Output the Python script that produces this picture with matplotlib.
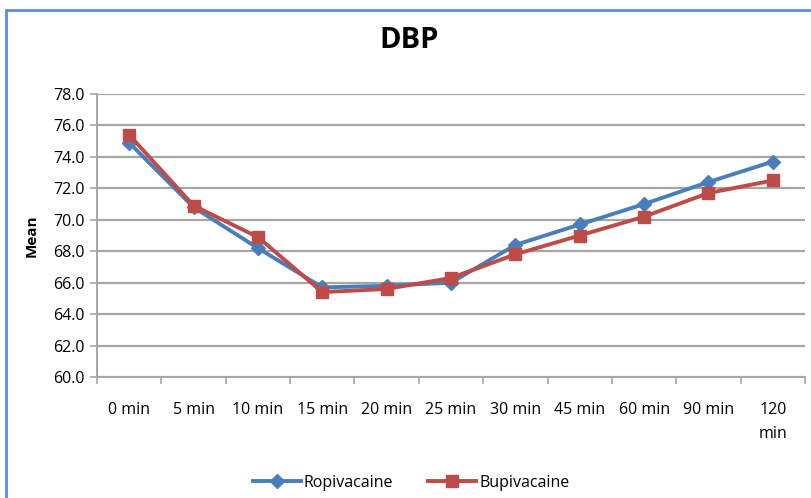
import matplotlib
matplotlib.use("Agg")
import matplotlib.pyplot as plt
import numpy as np
from matplotlib.patches import Rectangle

BLUE = "#4A7EBB"
RED = "#BE4B48"
GRID = "#A6A6A6"

times = ["0 min", "5 min", "10 min", "15 min", "20 min", "25 min",
         "30 min", "45 min", "60 min", "90 min", "120\nmin"]
ropivacaine = [74.9, 70.8, 68.2, 65.7, 65.8, 66.0, 68.4, 69.7, 71.0, 72.4, 73.7]
bupivacaine = [75.4, 70.9, 68.9, 65.4, 65.6, 66.3, 67.8, 69.0, 70.2, 71.7, 72.5]
yticks = np.arange(60.0, 78.1, 2.0)

plt.rcParams["font.family"] = ["Open Sans", "DejaVu Sans"]

fig = plt.figure(figsize=(8.11, 4.98), dpi=100)
fig.patch.set_facecolor("white")

# outer chart-area frame (cropped on right/bottom)
fig.add_artist(Rectangle((6 / 811, -0.05), 1.1, 1 - 10 / 498 + 0.05,
                         transform=fig.transFigure, fill=False,
                         edgecolor="#5B8FD6", linewidth=2.0))

ax = fig.add_axes([97 / 811, 1 - 377 / 498, (805 - 97) / 811, (377 - 94) / 498])
x = np.arange(len(times))

ax.plot(x, ropivacaine, color=BLUE, marker="D", markersize=7, linewidth=2.8,
        label="Ropivacaine", zorder=3)
ax.plot(x, bupivacaine, color=RED, marker="s", markersize=9, linewidth=2.8,
        label="Bupivacaine", zorder=4)

ax.set_xlim(-0.5, len(times) - 0.5)
ax.set_ylim(60, 78)
ax.set_yticks(yticks)
ax.set_yticklabels([f"{v:.1f}" for v in yticks], fontsize=11.5)
ax.yaxis.grid(True, color=GRID, linewidth=1.6)
ax.set_axisbelow(True)

ax.set_xticks(x)
ax.set_xticklabels(times, fontsize=11.5, linespacing=1.7)
ax.set_xticks(np.arange(-0.5, len(times), 1.0), minor=True)
ax.tick_params(axis="x", which="major", length=0, pad=18)
ax.tick_params(axis="x", which="minor", length=5, color=GRID, width=1.2)
ax.tick_params(axis="y", length=5, color=GRID, width=1.2, pad=4)

for s in ("top", "right"):
    ax.spines[s].set_visible(False)
for s in ("left", "bottom"):
    ax.spines[s].set_color(GRID)
    ax.spines[s].set_linewidth(1.4)

ax.set_ylabel("Mean", fontsize=11, fontweight="bold", labelpad=10)
fig.text(0.505, 1 - 40 / 498, "DBP", fontsize=21, fontweight="bold",
         ha="center", va="center")

fig.legend(loc="center", bbox_to_anchor=(0.507, 1 - 483 / 498), ncol=2,
           frameon=False, fontsize=11.5, handlelength=3.0, columnspacing=2.2,
           handletextpad=0.2)

fig.savefig("out.png", dpi=100, facecolor="white")
